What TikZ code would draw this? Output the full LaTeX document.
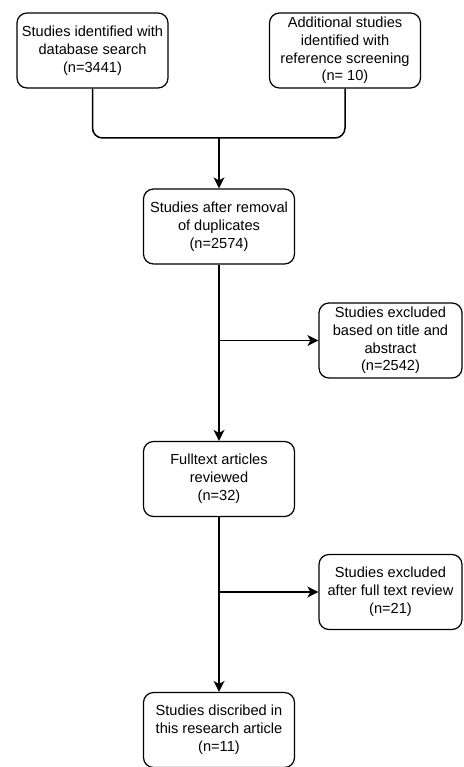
\documentclass[tikz,border=0pt]{standalone}
\usepackage{fontspec}
\setmainfont{Liberation Sans}
\usetikzlibrary{positioning,arrows.meta}

\tikzset{
  stagebox/.style={draw,line width=1.2pt,rounded corners=10pt,align=center,
    minimum width=151pt,minimum height=75pt,inner sep=2pt,
    font=\fontsize{14.6}{17.8}\selectfont},
  sidebox/.style={stagebox,minimum width=143pt},
  flow/.style={line width=1.5pt},
  flowarrow/.style={flow,-{Stealth[length=11pt,width=11pt,inset=3pt]}}
}

\begin{document}
\begin{tikzpicture}[x=1pt,y=-1pt]

  \useasboundingbox (0,0) rectangle (463,767);

  % Sources
  \node [stagebox] (db) at (92.5,50.5) {Studies identified with\\database search\\(n=3441)};
  \node [stagebox] (refs) at (345,50.5) {Additional studies\\identified with\\reference screening\\(n= 10)};
  \node [coordinate] (join) at (219,138) {};

  % Duplicates removed
  \node [stagebox] (dup) at (219,226.5) {Studies after removal\\of duplicates\\(n=2574)};
  \draw [flow,rounded corners=10pt] (db.south) |- (join);
  \draw [flow,rounded corners=10pt] (refs.south) |- (join);
  \draw [flowarrow] (join) -- (dup.north);

  % Title and abstract screening
  \node [sidebox] (excla) at (390.5,340.5) {Studies excluded\\based on title and\\abstract\\(n=2542)};
  \node [stagebox] (full) at (219,479) {Fulltext articles\\reviewed\\(n=32)};
  \node [coordinate] (splita) at (219,340.5) {};
  \draw [flowarrow] (dup.south) -- (full.north);
  \draw [flowarrow] (splita) -- (excla.west);

  % Full text review
  \node [sidebox] (exclb) at (390.5,592) {Studies excluded\\after full text review\\(n=21)};
  \node [stagebox] (final) at (219,730) {Studies discribed in\\this research article\\(n=11)};
  \node [coordinate] (splitb) at (219,592) {};
  \draw [flowarrow] (full.south) -- (final.north);
  \draw [flowarrow] (splitb) -- (exclb.west);

\end{tikzpicture}
\end{document}
